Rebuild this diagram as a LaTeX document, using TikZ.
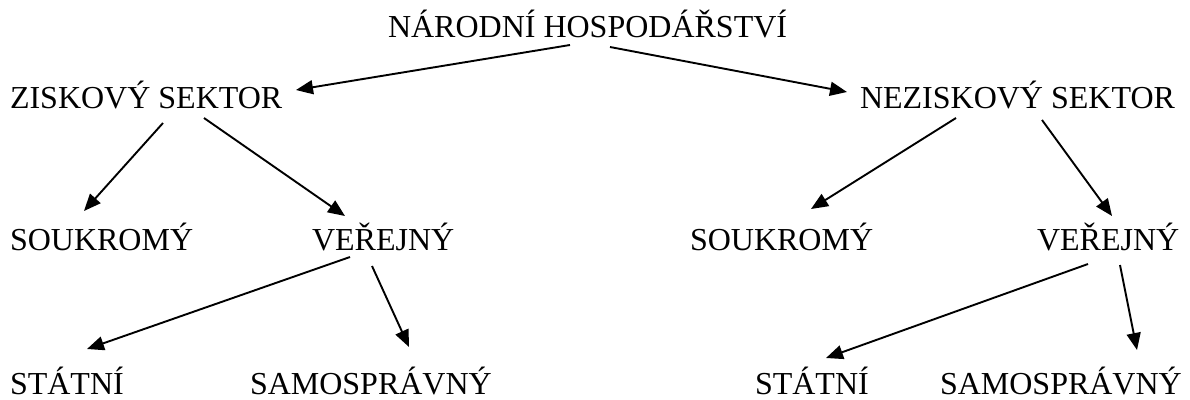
\documentclass[tikz,border=0pt]{standalone}
\usepackage{fontspec}
\setmainfont{Liberation Serif}
\usetikzlibrary{arrows.meta}
\begin{document}
\begin{tikzpicture}[x=1pt,y=-1pt,
  lbl/.style={anchor=base west,inner sep=0pt,outer sep=0pt,font=\fontsize{32}{38}\selectfont},
  arr/.style={line width=1.9pt,-{Triangle[length=17pt,width=14pt]}}]
\useasboundingbox (0,0) rectangle (1190,399);
\node[lbl] (nh)  at (388,37)  {NÁRODNÍ HOSPODÁŘSTVÍ};
\node[lbl] (zs)  at (10,108)  {ZISKOVÝ SEKTOR};
\node[lbl] (ns)  at (860,108) {NEZISKOVÝ SEKTOR};
\node[lbl] (sl)  at (10,250)  {SOUKROMÝ};
\node[lbl] (vl)  at (312,250) {VEŘEJNÝ};
\node[lbl] (sr)  at (690,250) {SOUKROMÝ};
\node[lbl] (vr)  at (1037,250) {VEŘEJNÝ};
\node[lbl] (stl) at (10,394)  {STÁTNÍ};
\node[lbl] (sal) at (250,394) {SAMOSPRÁVNÝ};
\node[lbl] (str) at (755,394) {STÁTNÍ};
\node[lbl] (sar) at (940,394) {SAMOSPRÁVNÝ};
\draw[arr] ([shift={(182,8)}]nh.base west) -- ([shift={(286,-18)}]zs.base west);
\draw[arr] ([shift={(222,10)}]nh.base west) -- ([shift={(-13,-16)}]ns.base west);
\draw[arr] ([shift={(153,15)}]zs.base west) -- ([shift={(74,-39)}]sl.base west);
\draw[arr] ([shift={(194,10)}]zs.base west) -- ([shift={(33,-34)}]vl.base west);
\draw[arr] ([shift={(96,10)}]ns.base west) -- ([shift={(121,-41)}]sr.base west);
\draw[arr] ([shift={(182,12)}]ns.base west) -- ([shift={(75,-34)}]vr.base west);
\draw[arr] ([shift={(38,7)}]vl.base west) -- ([shift={(77,-45)}]stl.base west);
\draw[arr] ([shift={(60,16)}]vl.base west) -- ([shift={(159,-47)}]sal.base west);
\draw[arr] ([shift={(51,14)}]vr.base west) -- ([shift={(71,-36)}]str.base west);
\draw[arr] ([shift={(83,15)}]vr.base west) -- ([shift={(197,-44)}]sar.base west);
\end{tikzpicture}
\end{document}
